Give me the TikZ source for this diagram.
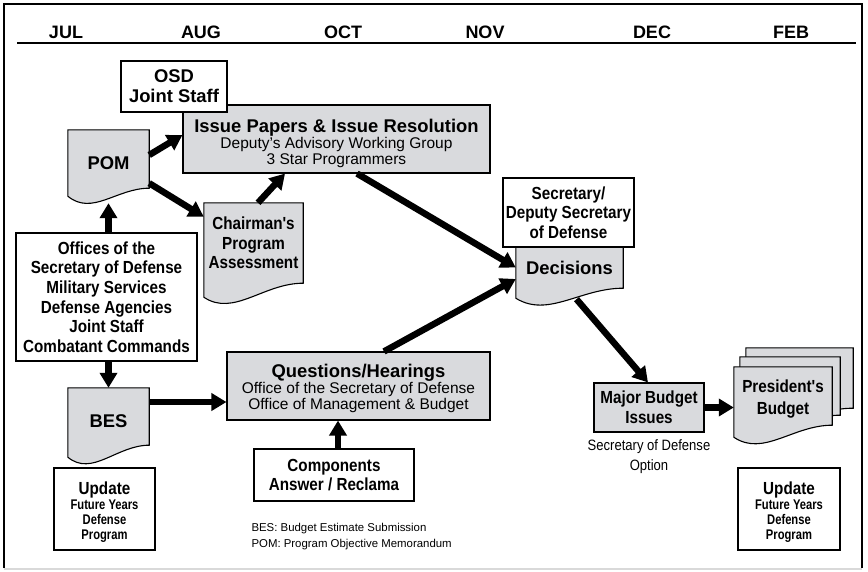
\documentclass[tikz,border=0pt]{standalone}
\usepackage{fontspec}
\setmainfont{Liberation Sans}
\newfontfamily\condfont[FakeStretch=0.87]{Liberation Sans}
\newfontfamily\narrowfont[FakeStretch=0.8]{Liberation Sans}
\usepackage{tikz}
\usetikzlibrary{arrows.meta,calc,backgrounds}
\definecolor{docgray}{RGB}{217,218,221}

\newcommand{\monthfont}{\bfseries\fontsize{18}{20}\selectfont}
\newcommand{\headfont}{\bfseries\fontsize{18.4}{20}\selectfont}
\newcommand{\subfont}{\fontsize{15.5}{16}\selectfont}
\newcommand{\condbold}{\condfont\bfseries\fontsize{17.5}{19.6}\selectfont}
\newcommand{\condreg}{\condfont\fontsize{15}{20}\selectfont}
\newcommand{\smallcond}{\narrowfont\bfseries\fontsize{14}{15.2}\selectfont}
\newcommand{\legfont}{\fontsize{11.4}{16}\selectfont}
\newcommand{\dropbox}[2]{\raisebox{-#1}[\height][\depth]{#2}}

\newcommand{\docshape}[2][10]{%
  \begin{scope}[on background layer]
    \filldraw[fill=docgray, line width=1.1pt] (#2.south east) -- (#2.north east) -- (#2.north west)
      -- ($(#2.south west)+(0,#1)$)
      .. controls ($(#2.south west)!0.3!(#2.south east)+(0,#1+20)$) and ($(#2.south west)!0.6!(#2.south east)$) .. (#2.south east) -- cycle;
  \end{scope}}

\begin{document}
\begin{tikzpicture}[x=1pt, y=-1pt,
  box/.style={draw, line width=1.1pt, fill=white, align=center, inner sep=0pt},
  graybox/.style={box, fill=docgray},
  doc/.style={align=center, inner sep=0pt},
  flow/.style={line width=6.5pt, -{Triangle[length=15pt,width=17pt]}},
  month/.style={font=\monthfont, anchor=base}]

  \useasboundingbox (0,0) rectangle (868,571);
  \draw[line width=2.5pt] (4,568) -- (4,4) -- (862,4) -- (862,568);
  \draw[black!15, line width=1.5pt] (4,569) -- (862,569);
  \foreach \m/\x in {JUL/66, AUG/201, OCT/343, NOV/485, DEC/652, FEB/791}
    \node[month] (\m) at (\x,38) {\m};
  \draw[line width=1.2pt] (17,43) -- (856,43);

  \node[graybox, minimum width=307pt, minimum height=68pt, font=\subfont] (issue) at (336.5,139)
    {\rule{0pt}{22pt}{\headfont Issue Papers \& Issue Resolution}\\Deputy's Advisory Working Group\\3 Star Programmers};
  \node[box, minimum width=106pt, minimum height=51pt, font=\headfont] (osd) at (174,86.5) {OSD\\Joint Staff};

  \node[doc, minimum width=81pt, minimum height=58pt, font=\headfont] (pom) at (108.5,159) {\dropbox{4pt}{POM}};
  \docshape[8]{pom}
  \node[doc, minimum width=99pt, minimum height=80pt, font=\condbold] (chair) at (253.5,243) {Chairman's\\Program\\Assessment};
  \docshape[14]{chair}
  \node[box, minimum width=181pt, minimum height=128pt, font=\condbold] (offices) at (106.5,297)
    {Offices of the\\Secretary of Defense\\Military Services\\Defense Agencies\\Joint Staff\\Combatant Commands};
  \node[doc, minimum width=81pt, minimum height=57pt, font=\headfont] (bes) at (108.5,416.5) {\dropbox{5pt}{BES}};
  \docshape[12]{bes}
  \node[box, minimum width=101pt, minimum height=82pt, font=\smallcond] (upd1) at (104.5,509)
    {\rule{0pt}{19pt}{\condbold Update}\\Future Years\\Defense\\Program};

  \node[graybox, minimum width=263pt, minimum height=68pt, font=\subfont] (quest) at (358.5,386)
    {\rule{0pt}{18pt}{\headfont Questions/Hearings}\\Office of the Secretary of Defense\\Office of Management \& Budget};
  \node[box, minimum width=160pt, minimum height=52pt, font=\condbold] (comp) at (334,475) {Components\\Answer / Reclama};
  \node[anchor=west, align=left, font=\legfont] (legend) at (248,537)
    {BES: Budget Estimate Submission\\POM: Program Objective Memorandum};

  \node[box, minimum width=131pt, minimum height=69pt, font=\condbold] (secdef) at (568.5,212.5) {Secretary/\\Deputy Secretary\\of Defense};
  \node[doc, minimum width=107pt, minimum height=41pt, font=\headfont] (dec) at (569.5,267.5) {Decisions};
  \docshape[10]{dec}
  \node[graybox, minimum width=110pt, minimum height=49pt, font=\condbold] (major) at (649,407.5) {Major Budget\\Issues};
  \node[align=center, font=\condreg] (option) at (649,457) {Secretary of Defense\\Option};

  \node[doc, minimum width=107pt, minimum height=60pt] (pb3) at (799.5,378) {};
  \docshape[10]{pb3}
  \node[doc, minimum width=100pt, minimum height=58pt] (pb2) at (790,386) {};
  \docshape[10]{pb2}
  \node[doc, minimum width=98pt, minimum height=58pt, font=\condbold] (pb1) at (783,396) {\rule{0pt}{19pt}President's\\[2.4pt]Budget};
  \docshape[12]{pb1}
  \node[box, minimum width=102pt, minimum height=82pt, font=\smallcond] (upd2) at (789,509)
    {\rule{0pt}{19pt}{\condbold Update}\\Future Years\\Defense\\Program};

  \draw[flow] (pom.south |- offices.north) -- ([yshift=-15pt]pom.south);
  \draw[flow] (bes.north |- offices.south) -- (bes.north);
  \draw[flow] ([yshift=4pt]pom.east) -- ([yshift=4pt]issue.west);
  \draw[flow] ([yshift=5pt]pom.south east) -- ([yshift=-14pt]chair.north west);
  \draw[flow] ([xshift=4.5pt]chair.north) -- ([xshift=-51.5pt]issue.south);
  \draw[flow] ([xshift=20.5pt]issue.south) -- (dec.west);
  \draw[flow] ([xshift=25.5pt]quest.north) -- ([yshift=-11.5pt]dec.west);
  \draw[flow] ([yshift=14.5pt]bes.east) -- ([yshift=-16pt]quest.west);
  \draw[flow] ([xshift=4pt]comp.north) -- ([xshift=4pt]comp.north |- quest.south);
  \draw[flow] ([xshift=7pt,yshift=-11pt]dec.south) -- ([xshift=-1pt]major.north);
  \draw[flow] (major.east) -- (major.east -| pb1.west);
\end{tikzpicture}
\end{document}
